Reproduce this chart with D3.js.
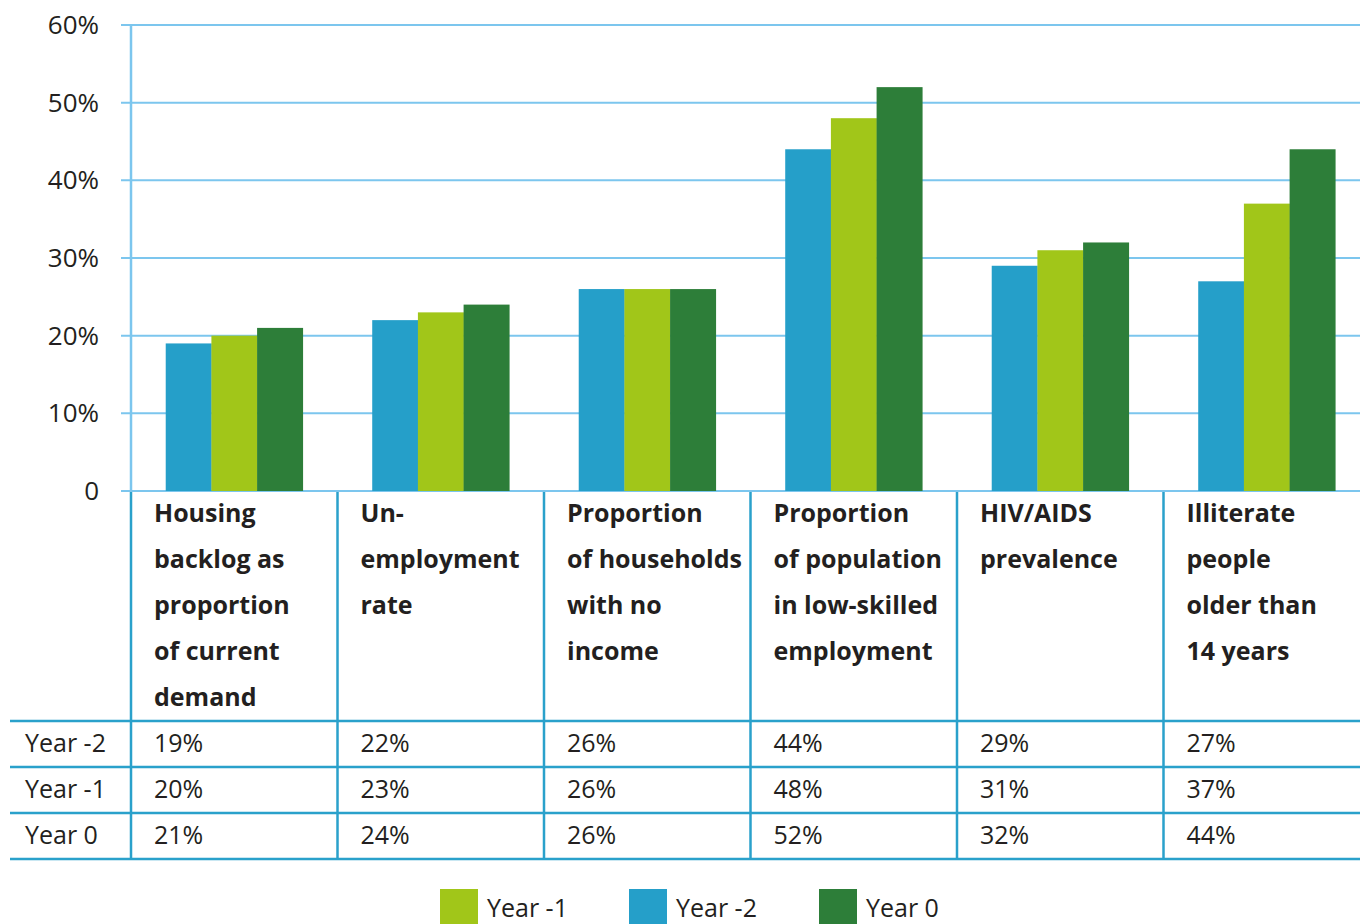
<!DOCTYPE html>
<html>
<head>
<meta charset="utf-8">
<script src="https://cdn.jsdelivr.net/npm/d3@7"></script>
<style>
  html, body { margin: 0; padding: 0; background: #ffffff; }
  svg { display: block; font-family: "Open Sans", "Noto Sans", sans-serif; }
</style>
</head>
<body>
<svg id="chart" width="1360" height="924"></svg>
<script>
// Indicator categories (column headers, one line per array item)
const categories = [
  ["Housing", "backlog as", "proportion", "of current", "demand"],
  ["Un-", "employment", "rate"],
  ["Proportion", "of households", "with no", "income"],
  ["Proportion", "of population", "in low-skilled", "employment"],
  ["HIV/AIDS", "prevalence"],
  ["Illiterate", "people", "older than", "14 years"]
];

// Series values, in percent
const seriesNames = ["Year -2", "Year -1", "Year 0"];
const yearMinus2 = [19, 22, 26, 44, 29, 27];
const yearMinus1 = [20, 23, 26, 48, 31, 37];
const year0      = [21, 24, 26, 52, 32, 44];
const seriesValues = [yearMinus2, yearMinus1, year0];

// Axis ticks
const yTicks = [0, 10, 20, 30, 40, 50, 60];

// Legend order
const legendOrder = ["Year -1", "Year -2", "Year 0"];

const colors = { "Year -2": "#259fc9", "Year -1": "#a1c619", "Year 0": "#2d7e39" };
const gridColor = "#7cc6ee";
const tableColor = "#2aa1cb";
const textColor = "#231f20";

const svg = d3.select("#chart");

const left = 131, bandW = 206.5;
const x = d3.scaleBand()
  .domain(d3.range(categories.length))
  .range([left, left + bandW * categories.length])
  .paddingInner(0).paddingOuter(0);

const y = d3.scaleLinear().domain([0, 60]).range([491, 25]);

const inner = d3.scaleBand()
  .domain(seriesNames)
  .range([0, bandW])
  .paddingInner(0)
  .paddingOuter(0.76);

// Gridlines with short tick stubs on the left
svg.append("g").selectAll("line")
  .data(yTicks)
  .join("line")
  .attr("x1", 121).attr("x2", 1360)
  .attr("y1", d => y(d)).attr("y2", d => y(d))
  .attr("stroke", gridColor).attr("stroke-width", 2);

// Y tick labels
svg.append("g").selectAll("text")
  .data(yTicks)
  .join("text")
  .attr("x", 99)
  .attr("y", d => y(d) + 9)
  .attr("text-anchor", "end")
  .attr("font-size", 26)
  .attr("fill", textColor)
  .text(d => d === 0 ? "0" : d + "%");

// Bars
const groups = svg.append("g").selectAll("g")
  .data(categories.map((c, i) => i))
  .join("g")
  .attr("transform", i => `translate(${x(i)},0)`);

groups.selectAll("rect")
  .data(i => seriesNames.map((s, k) => ({ s, v: seriesValues[k][i] })))
  .join("rect")
  .attr("x", d => inner(d.s))
  .attr("width", inner.bandwidth() + 0.3)
  .attr("y", d => y(d.v))
  .attr("height", d => y(0) - y(d.v))
  .attr("fill", d => colors[d.s]);

// Vertical axis line inside the plot
svg.append("line")
  .attr("x1", left).attr("x2", left)
  .attr("y1", y(60)).attr("y2", y(0))
  .attr("stroke", gridColor).attr("stroke-width", 2.5);

// Data table below the plot
const rowTop = 721, rowH = 46;
const table = svg.append("g");

// Column dividers
table.selectAll("line.col")
  .data(d3.range(categories.length))
  .join("line")
  .attr("class", "col")
  .attr("x1", i => x(i)).attr("x2", i => x(i))
  .attr("y1", y(0) + 1).attr("y2", rowTop + rowH * 3)
  .attr("stroke", tableColor).attr("stroke-width", 2.5);

// Row lines
table.selectAll("line.row")
  .data(d3.range(4))
  .join("line")
  .attr("class", "row")
  .attr("x1", 10).attr("x2", 1360)
  .attr("y1", r => rowTop + r * rowH).attr("y2", r => rowTop + r * rowH)
  .attr("stroke", tableColor).attr("stroke-width", 2.5);

// Header text
const headers = table.selectAll("text.head")
  .data(categories)
  .join("text")
  .attr("class", "head")
  .attr("x", (d, i) => x(i) + 23)
  .attr("font-size", 25)
  .attr("font-weight", "bold")
  .attr("fill", textColor);
headers.selectAll("tspan")
  .data(d => d)
  .join("tspan")
  .attr("x", function () { return this.parentNode.getAttribute("x"); })
  .attr("y", (d, j) => 522 + j * 46)
  .text(d => d);

// Row labels and values
seriesNames.forEach((s, k) => {
  const by = rowTop + k * rowH + 31;
  table.append("text")
    .attr("x", 25).attr("y", by)
    .attr("font-size", 25).attr("fill", textColor)
    .text(s);
  table.append("g").selectAll("text")
    .data(seriesValues[k])
    .join("text")
    .attr("x", (d, i) => x(i) + 23)
    .attr("y", by)
    .attr("font-size", 25).attr("fill", textColor)
    .text(d => d + "%");
});

// Legend
const legendX = [440, 629, 819];
const legend = svg.append("g").selectAll("g")
  .data(legendOrder)
  .join("g")
  .attr("transform", (d, i) => `translate(${legendX[i]},889)`);
legend.append("rect")
  .attr("width", 38).attr("height", 40)
  .attr("fill", d => colors[d]);
legend.append("text")
  .attr("x", 47).attr("y", 28)
  .attr("font-size", 25).attr("fill", textColor)
  .text(d => d);
</script>
</body>
</html>
